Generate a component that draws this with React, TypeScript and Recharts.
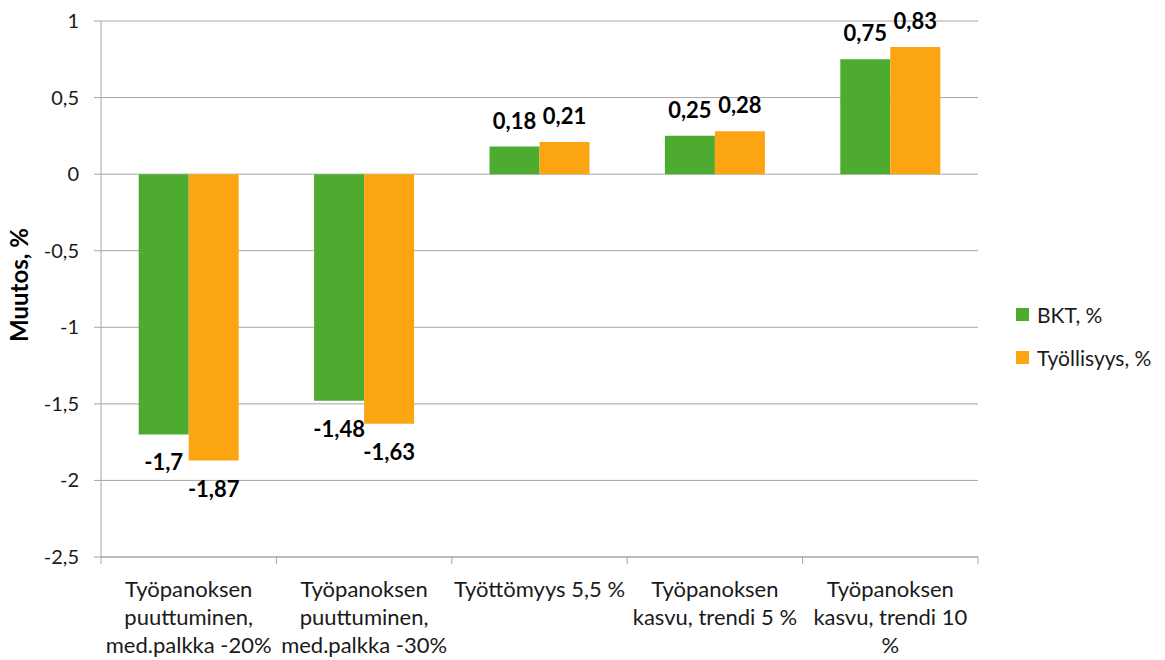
import React from 'react';
import { BarChart, Bar, XAxis, YAxis, CartesianGrid, LabelList } from 'recharts';

const categories = [
  'Työpanoksen\npuuttuminen,\nmed.palkka -20%',
  'Työpanoksen\npuuttuminen,\nmed.palkka -30%',
  'Työttömyys 5,5 %',
  'Työpanoksen\nkasvu, trendi 5 %',
  'Työpanoksen\nkasvu, trendi 10\n%',
];
const bkt = [-1.7, -1.48, 0.18, 0.25, 0.75];
const tyollisyys = [-1.87, -1.63, 0.21, 0.28, 0.83];
const yTicks = [-2.5, -2, -1.5, -1, -0.5, 0, 0.5, 1];
const seriesNames = ['BKT, %', 'Työllisyys, %'];
const seriesColors = ['#4DAB30', '#FCA513'];

const data = categories.map((c, i) => ({ name: c, bkt: bkt[i], tyo: tyollisyys[i] }));

const W = 1165;
const H = 660;
const LEFT = 101;
const RIGHT = 978;
const TOP = 21;
const BOTTOM = 557;
const BAND = (RIGHT - LEFT) / categories.length;
const FONT = 'Lato, "Liberation Sans", sans-serif';
const GRID = '#A6A6A6';

const fmt = (v: number) => String(v).replace('.', ',');

const CatTick = (props: any) => {
  const { x, payload, index } = props;
  const lines = String(payload.value).split('\n');
  return (
    <g>
      <line x1={x - BAND / 2} x2={x - BAND / 2} y1={BOTTOM} y2={BOTTOM + 7} stroke={GRID} />
      {index === categories.length - 1 && (
        <line x1={x + BAND / 2} x2={x + BAND / 2} y1={BOTTOM} y2={BOTTOM + 7} stroke={GRID} />
      )}
      {lines.map((l, i) => (
        <text key={i} x={x} y={BOTTOM + 40 + i * 28} textAnchor="middle" fill="#1a1a1a" fontSize={22} fontFamily={FONT}>
          {l}
        </text>
      ))}
    </g>
  );
};

const ValTick = (props: any) => {
  const { y, payload } = props;
  return (
    <text x={LEFT - 22} y={y + 7} textAnchor="end" fill="#1a1a1a" fontSize={20} fontFamily={FONT}>
      {fmt(payload.value)}
    </text>
  );
};

const BarLabel = (props: any) => {
  const { x, y, width, height, value } = props;
  const top = Math.min(y, y + height);
  const bottom = Math.max(y, y + height);
  const cx = x + width / 2;
  const ty = value < 0 ? bottom + 36 : top - 18;
  return (
    <text x={cx} y={ty} textAnchor="middle" fill="#000" fontSize={22} fontWeight="bold" fontFamily={FONT}>
      {fmt(value)}
    </text>
  );
};

const YLabel = () => {
  const cy = (TOP + BOTTOM) / 2 - 4;
  return (
    <text x={28} y={cy} transform={`rotate(-90 28 ${cy})`} textAnchor="middle" fontSize={24} fontWeight="bold" fill="#000" fontFamily={FONT}>
      Muutos, %
    </text>
  );
};

export default function App() {
  return (
    <div style={{ position: 'absolute', left: 0, top: 0, width: W, height: H, background: '#fff' }}>
      <BarChart
        width={W}
        height={H}
        data={data}
        margin={{ top: TOP, right: W - RIGHT, left: 0, bottom: 0 }}
        barGap={0}
        barCategoryGap={(BAND - 100) / 2}
      >
        <CartesianGrid vertical={false} stroke={GRID} strokeWidth={1} />
        <XAxis
          dataKey="name"
          height={H - BOTTOM}
          axisLine={{ stroke: GRID }}
          tickLine={false}
          tick={<CatTick />}
          interval={0}
        />
        <YAxis
          width={LEFT}
          domain={[-2.5, 1]}
          ticks={yTicks}
          axisLine={{ stroke: GRID }}
          tickLine={{ stroke: GRID }}
          tickSize={7}
          tick={<ValTick />}
          label={<YLabel />}
          interval={0}
        />
        <Bar dataKey="bkt" name={seriesNames[0]} fill={seriesColors[0]} isAnimationActive={false}>
          <LabelList dataKey="bkt" content={<BarLabel />} />
        </Bar>
        <Bar dataKey="tyo" name={seriesNames[1]} fill={seriesColors[1]} isAnimationActive={false}>
          <LabelList dataKey="tyo" content={<BarLabel />} />
        </Bar>
      </BarChart>
      <div style={{ position: 'absolute', left: 1016, top: 293, fontFamily: FONT, fontSize: 21, color: '#1a1a1a' }}>
        {seriesNames.map((n, i) => (
          <div key={n} style={{ display: 'flex', alignItems: 'center', height: 43, whiteSpace: 'nowrap' }}>
            <span style={{ display: 'inline-block', width: 13, height: 13, background: seriesColors[i], marginRight: 8 }} />
            <span>{n}</span>
          </div>
        ))}
      </div>
    </div>
  );
}
